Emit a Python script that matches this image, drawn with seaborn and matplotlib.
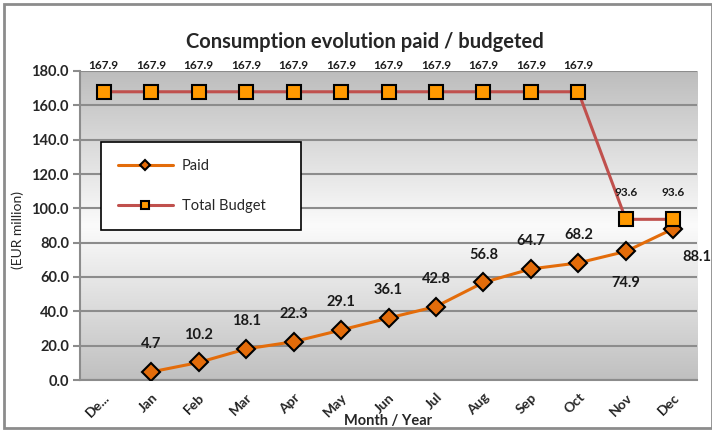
import numpy as np
import pandas as pd
import matplotlib
matplotlib.use("Agg")
import matplotlib.pyplot as plt
from matplotlib.colors import LinearSegmentedColormap
import seaborn as sns

# chart data
months = ["De...", "Jan", "Feb", "Mar", "Apr", "May", "Jun", "Jul",
          "Aug", "Sep", "Oct", "Nov", "Dec"]
paid = [np.nan, 4.7, 10.2, 18.1, 22.3, 29.1, 36.1, 42.8, 56.8, 64.7, 68.2, 74.9, 88.1]
budget = [167.9] * 11 + [93.6, 93.6]
yticks = [0, 20, 40, 60, 80, 100, 120, 140, 160, 180]

df = pd.DataFrame({"pos": range(len(months)), "month": months,
                   "Paid": paid, "Total Budget": budget})

sns.set_style("white")
plt.rcParams["font.family"] = ["Lato", "DejaVu Sans"]

fig = plt.figure(figsize=(7.12, 4.30), dpi=100)
ax = fig.add_axes([80 / 712, 1 - 380 / 430, 617 / 712, 309 / 430])

# gradient background gray -> white -> gray
cmap = LinearSegmentedColormap.from_list(
    "bg", [(0, "#c0c0c0"), (0.5, "#fbfbfb"), (1, "#bdbdbd")])
grad = np.linspace(0, 1, 256).reshape(-1, 1)
ax.imshow(grad, cmap=cmap, aspect="auto", extent=(-0.5, 12.5, 0, 180),
          origin="lower", zorder=0)

for y in yticks:
    ax.axhline(y, color="#8c8c8c", lw=1.5, zorder=1)

sns.lineplot(data=df, x="pos", y="Paid", ax=ax, color="#e36c0a", lw=2.2,
             marker="D", markersize=9, markerfacecolor="#e36c0a",
             markeredgecolor="black", markeredgewidth=1.5, label="Paid", zorder=3)
sns.lineplot(data=df, x="pos", y="Total Budget", ax=ax, color="#c0504d", lw=2.2,
             marker="s", markersize=10, markerfacecolor="#ff9900",
             markeredgecolor="black", markeredgewidth=1.5, label="Total Budget",
             zorder=4)

# data labels
for i, v in enumerate(paid):
    if np.isnan(v):
        continue
    if months[i] == "Nov":
        off = (0, -23)
    elif months[i] == "Dec":
        off = (17, -20)
    else:
        off = (0, 20)
    ax.annotate(f"{v:.1f}", (i, v), xytext=off, textcoords="offset points",
                ha="center", va="center", fontsize=10.5, fontweight="bold",
                color="#1a1a1a", zorder=5)
for i, v in enumerate(budget):
    ax.annotate(f"{v:.1f}", (i, v), xytext=(0, 19), textcoords="offset points",
                ha="center", va="center", fontsize=8.5, fontweight="bold",
                color="#1a1a1a", zorder=5, annotation_clip=False)

ax.set_xlim(-0.5, 12.5)
ax.set_ylim(0, 180)
ax.set_yticks(yticks)
ax.set_yticklabels([f"{y:.1f}" for y in yticks], fontsize=10.5, fontweight="bold")
ax.set_xticks(range(len(months)))
ax.set_xticklabels(months, rotation=45, ha="right", rotation_mode="anchor",
                   fontsize=10, fontweight="bold")
ax.tick_params(axis="y", length=5, width=1.5, color="#8c8c8c", pad=3, left=True)
ax.tick_params(axis="x", length=0, pad=8)

for s in ["top", "right"]:
    ax.spines[s].set_visible(False)
for s in ["left", "bottom"]:
    ax.spines[s].set_color("#8c8c8c")
    ax.spines[s].set_linewidth(1.5)

ax.set_xlabel("")
ax.set_ylabel("")
fig.text(18 / 712, 1 - 230 / 430, "(EUR million)", rotation=90, ha="center",
         va="center", fontsize=10)
fig.text(388 / 712, 1 - 421 / 430, "Month / Year", ha="center", va="center",
         fontsize=10.5, fontweight="bold")
fig.text(365 / 712, 1 - 42 / 430, "Consumption evolution paid / budgeted",
         ha="center", va="center", fontsize=14.5, fontweight="bold")

leg = ax.legend(loc="upper left",
                bbox_to_anchor=(21 / 617, (380 - 145) / 309, 200 / 617, 0.01),
                mode="expand", frameon=True, fancybox=False, edgecolor="black",
                facecolor="white", framealpha=1, fontsize=10.5, handlelength=3.8,
                handletextpad=0.6, labelspacing=1.8, borderpad=1.15,
                borderaxespad=0, markerscale=0.6)
leg.get_frame().set_linewidth(1.2)
leg.set_zorder(6)

# outer border
fig.patches.append(plt.Rectangle((4 / 712, 2 / 430), 1 - 4 / 712, 1 - 6 / 430,
                                 transform=fig.transFigure, fill=False,
                                 edgecolor="#8c8c8c", lw=2))

fig.savefig("out.png", dpi=100)
